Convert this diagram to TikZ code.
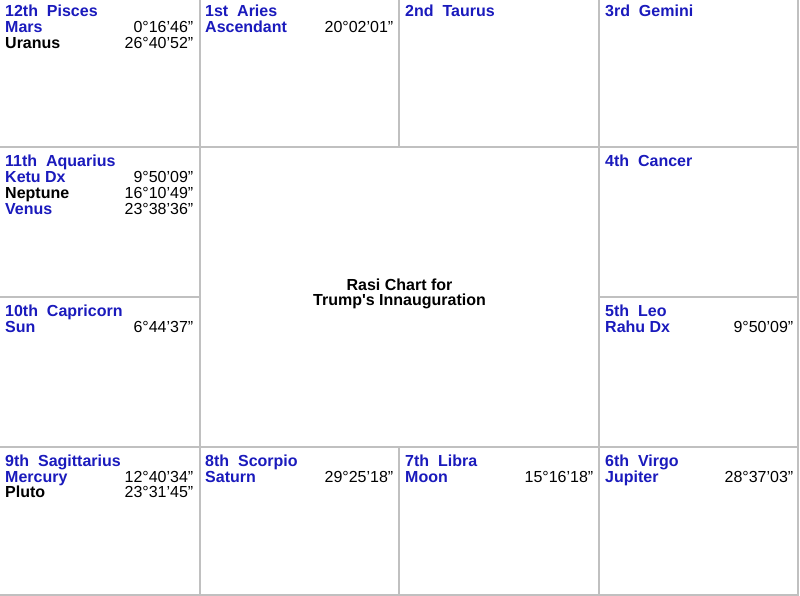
\documentclass[tikz,border=0pt]{standalone}
\usepackage{fontspec}
\setmainfont{Liberation Sans}
\definecolor{hblue}{RGB}{26,26,188}
\definecolor{gridgray}{RGB}{192,192,192}
\tikzset{
  txt/.style={inner sep=0pt, font=\fontsize{16}{16}\selectfont},
  head/.style={txt, anchor=base west, text=hblue, font=\fontsize{16}{16}\selectfont\bfseries},
  plb/.style={txt, anchor=base west, text=hblue, font=\fontsize{16}{16}\selectfont\bfseries},
  plk/.style={txt, anchor=base west, text=black, font=\fontsize{16}{16}\selectfont\bfseries},
  deg/.style={txt, anchor=base east, text=black},
  gridline/.style={draw=gridgray, line width=2pt},
}
\begin{document}
\begin{tikzpicture}[x=1pt,y=-1pt]
\useasboundingbox (0,0) rectangle (800,596);
% grid lines
\draw[gridline] (0,147.5) -- (798,147.5);
\draw[gridline] (0,446.5) -- (798,446.5);
\draw[gridline] (0,595) -- (798,595);
\draw[gridline] (0,297) -- (199.5,297);
\draw[gridline] (598.5,297) -- (798,297);
\draw[gridline] (199.5,0) -- (199.5,596);
\draw[gridline] (598.5,0) -- (598.5,596);
\draw[gridline] (798,0) -- (798,596);
\draw[gridline] (399,0) -- (399,147.5);
\draw[gridline] (399,446.5) -- (399,596);
% 12th Pisces
\node[head] (h12) at (5,16.7) {12th~~Pisces};
\node[plb] (mars) at (5,32.5) {Mars};
\node[deg] (marsd) at (193.5,32.5) {0°16’46”};
\node[plk] (uranus) at (5,48.5) {Uranus};
\node[deg] (uranusd) at (193.5,48.5) {26°40’52”};
% 1st Aries
\node[head] (h1) at (205,16.7) {1st~~Aries};
\node[plb] (asc) at (205,32.5) {Ascendant};
\node[deg] (ascd) at (393.5,32.5) {20°02’01”};
% 2nd Taurus
\node[head] (h2) at (405,16.7) {2nd~~Taurus};
% 3rd Gemini
\node[head] (h3) at (605,16.7) {3rd~~Gemini};
% 11th Aquarius
\node[head] (h11) at (5,166.7) {11th~~Aquarius};
\node[plb] (ketu) at (5,182.7) {Ketu Dx};
\node[deg] (ketud) at (193.5,182.7) {9°50’09”};
\node[plk] (neptune) at (5,198.5) {Neptune};
\node[deg] (neptuned) at (193.5,198.5) {16°10’49”};
\node[plb] (venus) at (5,214.3) {Venus};
\node[deg] (venusd) at (193.5,214.3) {23°38’36”};
% 4th Cancer
\node[head] (h4) at (605,166.7) {4th~~Cancer};
% 10th Capricorn
\node[head] (h10) at (5,316) {10th~~Capricorn};
\node[plb] (sun) at (5,332) {Sun};
\node[deg] (sund) at (193.5,332) {6°44’37”};
% 5th Leo
\node[head] (h5) at (605,316) {5th~~Leo};
\node[plb] (rahu) at (605,332) {Rahu Dx};
\node[deg] (rahud) at (793.5,332) {9°50’09”};
% 9th Sagittarius
\node[head] (h9) at (5,466) {9th~~Sagittarius};
\node[plb] (mercury) at (5,482) {Mercury};
\node[deg] (mercuryd) at (193.5,482) {12°40’34”};
\node[plk] (pluto) at (5,497.8) {Pluto};
\node[deg] (plutod) at (193.5,497.8) {23°31’45”};
% 8th Scorpio
\node[head] (h8) at (205,466) {8th~~Scorpio};
\node[plb] (saturn) at (205,482) {Saturn};
\node[deg] (saturnd) at (393.5,482) {29°25’18”};
% 7th Libra
\node[head] (h7) at (405,466) {7th~~Libra};
\node[plb] (moon) at (405,482) {Moon};
\node[deg] (moond) at (593.5,482) {15°16’18”};
% 6th Virgo
\node[head] (h6) at (605,466) {6th~~Virgo};
\node[plb] (jupiter) at (605,482) {Jupiter};
\node[deg] (jupiterd) at (793.5,482) {28°37’03”};
% centre title
\node[txt, anchor=base, font=\fontsize{16}{16}\selectfont\bfseries] (t1) at (399.5,290.5) {Rasi Chart for};
\node[txt, anchor=base, font=\fontsize{16}{16}\selectfont\bfseries] (t2) at (399.5,305) {Trump\textquotesingle s Innauguration};
\end{tikzpicture}
\end{document}
